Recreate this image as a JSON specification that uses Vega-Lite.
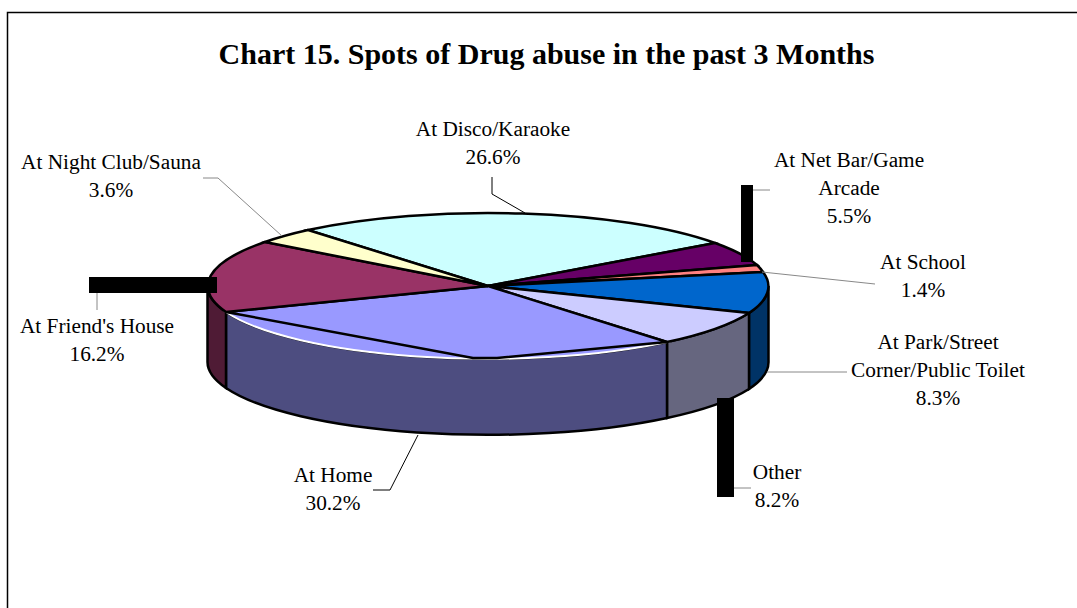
{"$schema":"https://vega.github.io/schema/vega-lite/v6.json","width":1077,"height":608,"padding":0,"autosize":"none","background":"white",
"title":{"text":"Chart 15. Spots of Drug abuse in the past 3 Months","font":"Liberation Serif","fontSize":30,"fontWeight":"bold","color":"black","anchor":"middle","baseline":"alphabetic","offset":-94,"dx":8},
"data":{"values":[
{"label":"At Disco/Karaoke","share":26.6},
{"label":"At Net Bar/Game\nArcade","share":5.5},
{"label":"At School","share":1.4},
{"label":"At Park/Street\nCorner/Public Toilet","share":8.3},
{"label":"Other","share":8.2},
{"label":"At Home","share":30.2},
{"label":"At Friend's House","share":16.2},
{"label":"At Night Club/Sauna","share":3.6}]},
"config":{"view":{"stroke":null}},
"resolve":{"scale":{"x":"independent","y":"independent","fill":"independent","shape":"independent"}},
"layer":[
{"data":{"values":[{"part":"frame"}]},
 "mark":{"type":"point","shape":"M-480.5,322V-273.5H589","filled":false,"stroke":"black","strokeWidth":1.5,"size":4,"opacity":1},
 "encoding":{"x":{"datum":0,"type":"quantitative","axis":null,"scale":{"domain":[-488,589],"range":[0,1077],"nice":false,"zero":false}},"y":{"datum":0,"type":"quantitative","axis":null,"scale":{"domain":[322,-286],"range":[608,0],"nice":false,"zero":false}}}},
{"transform":[{"filter":{"field":"share","oneOf":[16.2,30.2,8.2,8.3]}}],
 "mark":{"type":"point","filled":true,"stroke":"black","strokeWidth":2.5,"size":4,"opacity":1},
 "encoding":{"x":{"datum":0,"type":"quantitative","axis":null,"scale":{"domain":[-488,589],"range":[0,1077],"nice":false,"zero":false}},"y":{"datum":0,"type":"quantitative","axis":null,"scale":{"domain":[322,-286],"range":[608,0],"nice":false,"zero":false}},
 "fill":{"field":"share","type":"nominal","legend":null,"scale":{"domain":[16.2,30.2,8.2,8.3],"range":["#4F1B35","#4D4D80","#66667F","#003366"]}},
 "shape":{"field":"share","type":"nominal","legend":null,"scale":{"domain":[16.2,30.2,8.2,8.3],"range":[
 "M-280.5,0A280.5,73 0 0 0 -262,26V102A280.5,73 0 0 1 -280.5,76Z",
 "M-262,26A280.5,73 0 0 0 179,56V132A280.5,73 0 0 1 -262,102Z",
 "M179,56A280.5,73 0 0 0 261,27V103A280.5,73 0 0 1 179,132Z",
 "M261,27A280.5,73 0 0 0 280.5,0V76A280.5,73 0 0 1 261,103Z"]}}}},
{"transform":[{"filter":{"field":"share","oneOf":[30.2]}}],
 "mark":{"type":"point","filled":true,"fill":"#9999FF","stroke":"white","strokeWidth":2,"size":4,"opacity":1,"shape":"M179,56A280.5,73 0 0 1 -262,26L0,0Z"},
 "encoding":{"x":{"datum":0,"type":"quantitative","axis":null,"scale":{"domain":[-488,589],"range":[0,1077],"nice":false,"zero":false}},"y":{"datum":0,"type":"quantitative","axis":null,"scale":{"domain":[322,-286],"range":[608,0],"nice":false,"zero":false}}}},
{"mark":{"type":"point","filled":true,"stroke":"black","strokeWidth":2.5,"size":4,"opacity":1},
 "encoding":{"x":{"datum":0,"type":"quantitative","axis":null,"scale":{"domain":[-488,589],"range":[0,1077],"nice":false,"zero":false}},"y":{"datum":0,"type":"quantitative","axis":null,"scale":{"domain":[322,-286],"range":[608,0],"nice":false,"zero":false}},
 "fill":{"field":"share","type":"nominal","legend":null,"scale":{"domain":[26.6,5.5,1.4,8.3,8.2,30.2,16.2,3.6],"range":["#CCFFFF","#660066","#FF8080","#0066CC","#CCCCFF","#9999FF","#993366","#FFFFCC"]}},
 "shape":{"field":"share","type":"nominal","legend":null,"scale":{"domain":[26.6,5.5,1.4,8.3,8.2,30.2,16.2,3.6],"range":[
 "M0,0L-180,-56A280.5,73 0 0 1 227,-43Z",
 "M0,0L227,-43A280.5,73 0 0 1 269,-21Z",
 "M0,0L269,-21A280.5,73 0 0 1 275,-14Z",
 "M0,0L275,-14A280.5,73 0 0 1 261,27Z",
 "M0,0L261,27A280.5,73 0 0 1 179,56Z",
 "M0,0L179,56L9,72L-15,72L-262,26Z",
 "M0,0L-262,26A280.5,73 0 0 1 -223,-44Z",
 "M0,0L-223,-44A280.5,73 0 0 1 -180,-56Z"]}}}},
{"transform":[{"filter":{"field":"share","oneOf":[26.6,30.2]}}],
 "mark":{"type":"point","filled":false,"stroke":"black","strokeWidth":1,"size":4,"opacity":1},
 "encoding":{"x":{"datum":0,"type":"quantitative","axis":null,"scale":{"domain":[-488,589],"range":[0,1077],"nice":false,"zero":false}},"y":{"datum":0,"type":"quantitative","axis":null,"scale":{"domain":[322,-286],"range":[608,0],"nice":false,"zero":false}},
 "shape":{"field":"share","type":"nominal","legend":null,"scale":{"domain":[26.6,30.2],"range":["M4,-109V-92L37,-73","M-115,204H-98L-70,149"]}}}},
{"transform":[{"filter":{"field":"share","oneOf":[3.6,5.5,1.4,8.3,8.2,16.2]}}],
 "mark":{"type":"point","filled":false,"stroke":"#888888","strokeWidth":1,"size":4,"opacity":1},
 "encoding":{"x":{"datum":0,"type":"quantitative","axis":null,"scale":{"domain":[-488,589],"range":[0,1077],"nice":false,"zero":false}},"y":{"datum":0,"type":"quantitative","axis":null,"scale":{"domain":[322,-286],"range":[608,0],"nice":false,"zero":false}},
 "shape":{"field":"share","type":"nominal","legend":null,"scale":{"domain":[3.6,5.5,1.4,8.3,8.2,16.2],"range":["M-285,-108H-270L-206,-50","M265,-96H282","M274,-14L387,-2","M279,86H359","M246,202H263","M-391,7V24"]}}}},
{"transform":[{"filter":{"field":"share","oneOf":[5.5,8.2,16.2]}}],
 "mark":{"type":"point","filled":true,"fill":"black","strokeWidth":0,"size":4,"opacity":1},
 "encoding":{"x":{"datum":0,"type":"quantitative","axis":null,"scale":{"domain":[-488,589],"range":[0,1077],"nice":false,"zero":false}},"y":{"datum":0,"type":"quantitative","axis":null,"scale":{"domain":[322,-286],"range":[608,0],"nice":false,"zero":false}},
 "shape":{"field":"share","type":"nominal","legend":null,"scale":{"domain":[5.5,8.2,16.2],"range":["M253,-101H265V-24H253Z","M229,112H246V211H229Z","M-399,-9H-271V7H-399Z"]}}}},
{"transform":[{"calculate":"datum.label + '\\n' + format(datum.share, '.1f') + '%'","as":"caption"}],
 "mark":{"type":"text","font":"Liberation Serif","fontSize":21.3,"color":"black","align":"center","baseline":"alphabetic","lineBreak":"\n","lineHeight":28},
 "encoding":{"text":{"field":"caption"},
 "x":{"field":"share","type":"quantitative","axis":null,"scale":{"domain":[1.4,3.6,5.5,8.2,8.3,16.2,26.6,30.2],"range":[923,111,849,777,938,97,493,333],"nice":false,"zero":false}},
 "y":{"field":"share","type":"quantitative","axis":null,"scale":{"domain":[1.4,3.6,5.5,8.2,8.3,16.2,26.6,30.2],"range":[269,169,167,479,349,333,136,482],"nice":false,"zero":false}}}}
]}
